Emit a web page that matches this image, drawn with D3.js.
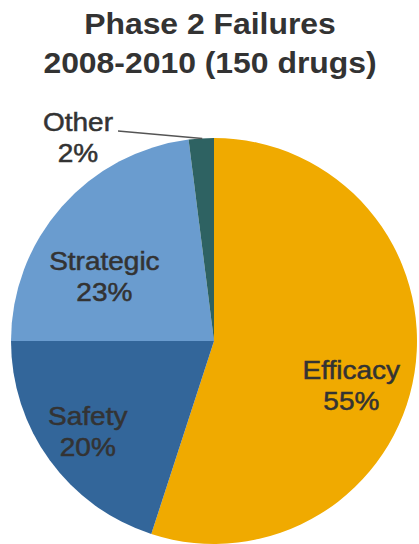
<!DOCTYPE html>
<html>
<head>
<meta charset="utf-8">
<script src="https://cdn.jsdelivr.net/npm/d3@7"></script>
<style>
html,body{margin:0;padding:0;background:#fff;}
svg{display:block;}
</style>
</head>
<body>
<svg id="chart" width="419" height="544"></svg>
<script>
const categories = ["Efficacy", "Safety", "Strategic", "Other"];
const values = [55, 20, 23, 2];
const colors = ["#F0AA00", "#33669A", "#6A9CCF", "#2E6262"];
const titleLines = ["Phase 2 Failures", "2008-2010 (150 drugs)"];

const W = 419, H = 544;
const cx = 214, cy = 341, R = 203;
const textColor = "#333333";
const sx = 1.12;

const svg = d3.select("#chart");

// Title
const tl = svg.append("g");
titleLines.forEach((t, i) => {
  tl.append("text")
    .attr("transform", `translate(${W/2 + 0.5},${34 + i*39}) scale(1.1,1)`)
    .attr("text-anchor", "middle")
    .attr("font-family", "Liberation Sans, Arial, sans-serif")
    .attr("font-weight", "bold")
    .attr("font-size", 29)
    .attr("fill", textColor)
    .text(t);
});

const pie = d3.pie().sort(null).value(d => d).startAngle(0).endAngle(2*Math.PI);
const arcs = pie(values);
const arc = d3.arc().innerRadius(0).outerRadius(R);
const labelArc = d3.arc().innerRadius(R*0.72).outerRadius(R*0.72);

const g = svg.append("g").attr("transform", `translate(${cx},${cy})`);
g.selectAll("path.slice").data(arcs).enter().append("path")
  .attr("class", "slice")
  .attr("d", arc)
  .attr("fill", (d, i) => colors[i]);

// label tweaks (layout only)
const labelShift = [[-7, 21], [-8, 4], [0, 32]];

function drawLabel(x, y, name, pct) {
  const lg = svg.append("g");
  [[name, -6], [pct, 25]].forEach(([t, dy]) => {
    lg.append("text")
      .attr("transform", `translate(${x},${y + dy}) scale(${sx},1)`)
      .attr("text-anchor", "middle")
      .attr("font-family", "Liberation Sans, Arial, sans-serif")
      .attr("font-size", 25)
      .attr("fill", textColor)
      .attr("stroke", textColor)
      .attr("stroke-width", 0.5)
      .text(t);
  });
}

arcs.forEach((d, i) => {
  const pct = values[i] + "%";
  if (i < 3) {
    const c = labelArc.centroid(d);
    drawLabel(cx + c[0] + labelShift[i][0], cy + c[1] + labelShift[i][1], categories[i], pct);
  } else {
    // outside label with leader line
    const mid = (d.startAngle + d.endAngle) / 2;
    const ex = cx + R * Math.sin(mid), ey = cy - R * Math.cos(mid);
    const lx = 78, ly = 137;
    svg.append("line")
      .attr("x1", lx + 40).attr("y1", ly - 6)
      .attr("x2", ex + 1).attr("y2", ey)
      .attr("stroke", "#555").attr("stroke-width", 1.5);
    drawLabel(lx, ly, categories[i], pct);
  }
});
</script>
</body>
</html>
